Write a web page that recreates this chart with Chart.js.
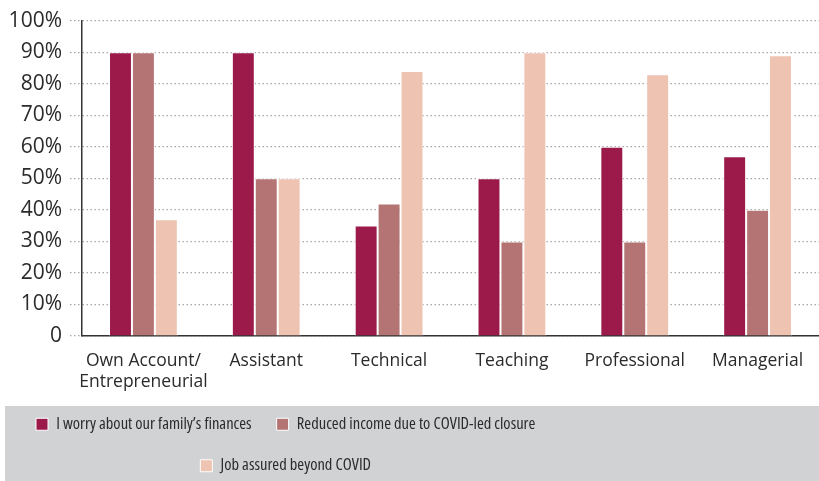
<!DOCTYPE html>
<html>
<head>
<meta charset="utf-8">
<script src="https://cdn.jsdelivr.net/npm/chart.js@4/dist/chart.umd.min.js"></script>
<style>
html,body{margin:0;padding:0;background:#fff;}
#wrap{width:819px;height:481px;position:relative;}
</style>
</head>
<body>
<div id="wrap"><canvas id="c"></canvas></div>
<script>
const categories = [["Own Account/", "Entrepreneurial"], "Assistant", "Technical", "Teaching", "Professional", "Managerial"];
const worryFinances = [90, 90, 35, 50, 60, 57];
const reducedIncome = [90, 50, 42, 30, 30, 40];
const jobAssured = [37, 50, 84, 90, 83, 89];
const yTicks = [0, 10, 20, 30, 40, 50, 60, 70, 80, 90, 100];
const seriesNames = ["I worry about our family\u2019s finances", "Reduced income due to COVID-led closure", "Job assured beyond COVID"];

const LEGEND_PAD = 25;
const legendPlugin = {
  id: 'legendBox',
  beforeLayout(chart) {
    const lg = chart.legend;
    if (lg && !lg._patched) {
      const orig = lg.update.bind(lg);
      lg.update = (mw, mh, m) => orig(Math.min(mw, 620), mh, m);
      lg._patched = true;
    }
  },
  afterLayout(chart) {
    const lg = chart.legend;
    if (chart.scales.x) chart.scales.x.bottom += 12;
    if (!lg || !lg.lineWidths) return;
    const lw0 = lg.lineWidths[0];
    const target = 36;
    const right = target + lw0 + 10;
    const left = 2 * target + lw0 - LEGEND_PAD - right;
    lg.left = left; lg.right = right; lg.width = right - left;
    lg.top += 3; lg.bottom += 3;
  },
  beforeDraw(chart) {
    const ctx = chart.ctx;
    ctx.save();
    ctx.fillStyle = '#d1d2d4';
    ctx.fillRect(5, 406, chart.width - 5, chart.height - 406);
    ctx.restore();
  }
};

new Chart(document.getElementById('c'), {
  type: 'bar',
  data: {
    labels: categories,
    datasets: [
      {label: seriesNames[0], data: worryFinances, backgroundColor: '#9b1a4a', borderColor: '#ffffff', borderWidth: 1},
      {label: seriesNames[1], data: reducedIncome, backgroundColor: '#b57474', borderColor: '#ffffff', borderWidth: 1},
      {label: seriesNames[2], data: jobAssured, backgroundColor: '#efc3b2', borderColor: '#ffffff', borderWidth: 1}
    ]
  },
  plugins: [legendPlugin],
  options: {
    responsive: true,
    maintainAspectRatio: false,
    animation: false,
    devicePixelRatio: 1,
    layout: {padding: {top: 6, left: 0, right: 0, bottom: 0}},
    datasets: {bar: {barPercentage: 1, categoryPercentage: 0.56}},
    plugins: {
      tooltip: {enabled: false},
      legend: {
        position: 'bottom',
        align: 'center',
        labels: {
          boxWidth: 12, boxHeight: 12,
          padding: LEGEND_PAD,
          color: '#2b2b2b',
          font: {family: "'Open Sans', sans-serif", weight: 'normal condensed', size: 16.5}
        }
      }
    },
    scales: {
      x: {
        grid: {display: false, drawTicks: false},
        border: {display: true, color: '#333333', width: 1.5},
        ticks: {color: '#2b2b2b', padding: 15, font: {family: "'Open Sans', sans-serif", size: 17.5}, maxRotation: 0, autoSkip: false},
        afterFit(s) { s.height = 52; }
      },
      y: {
        min: 0, max: 100,
        afterBuildTicks(s) { s.ticks = yTicks.map(v => ({value: v})); },
        grid: {color: '#a8a8a8', lineWidth: 1.2, tickLength: 12, drawTicks: true, tickBorderDash: [1.5, 2.5], tickColor: '#a8a8a8'},
        border: {display: true, color: '#333333', width: 1.5, dash: [1.5, 2.5]},
        ticks: {color: '#2b2b2b', padding: 8, autoSkip: false, stepSize: 10, font: {family: "'Open Sans', sans-serif", size: 21}, callback: v => v === 0 ? '0' : v + '%'},
        afterFit(s) { s.width = 82; }
      }
    }
  }
});
</script>
</body>
</html>
